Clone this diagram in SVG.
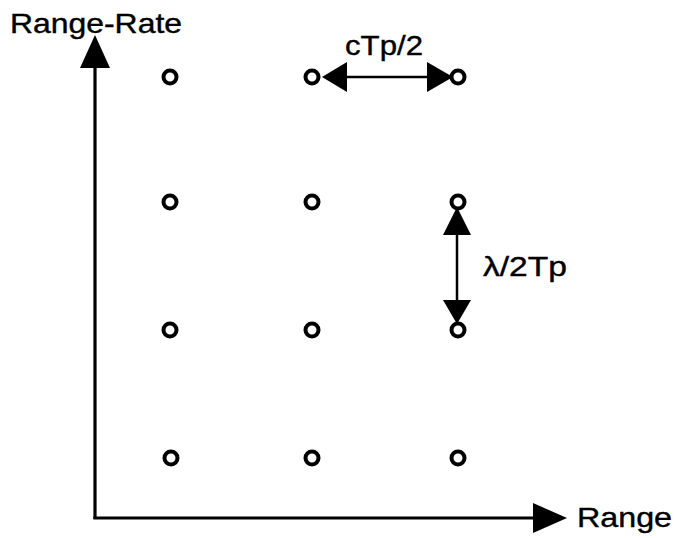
<svg xmlns="http://www.w3.org/2000/svg" width="676" height="538" viewBox="0 0 676 538">
<style>
.pt{fill:none;stroke:#000;stroke-width:4}
.ax{stroke:#000;stroke-width:3.2;fill:none}
.dim{stroke:#000;stroke-width:2.5;fill:none}
.hd{fill:#000}
text{font-family:"Liberation Sans",Arial,sans-serif;font-size:28px;fill:#000;stroke:#000;stroke-width:0.4}
</style>
<rect width="676" height="538" fill="#fff"/>
<g id="connectors">
<line class="ax" x1="95" y1="519" x2="95" y2="66"/>
<polygon class="hd" points="95,35 80,68 110,68"/>
<line class="ax" x1="93.4" y1="518" x2="535" y2="518"/>
<polygon class="hd" points="567,518 533,503 533,533"/>
<line class="dim" x1="345" y1="77" x2="429" y2="77"/>
<polygon class="hd" points="322,77 347,62 347,92"/>
<polygon class="hd" points="453,77 427,62 427,92"/>
<line class="dim" x1="457" y1="233" x2="457" y2="302"/>
<polygon class="hd" points="457,207 443,235 471,235"/>
<polygon class="hd" points="457,324 443,300 471,300"/>
</g>
<g id="p11"><circle class="pt" cx="170" cy="77" r="6.5"/></g>
<g id="p12"><circle class="pt" cx="312" cy="77" r="6.5"/></g>
<g id="p13"><circle class="pt" cx="458" cy="77" r="6.5"/></g>
<g id="p21"><circle class="pt" cx="170" cy="202" r="6.5"/></g>
<g id="p22"><circle class="pt" cx="312" cy="202" r="6.5"/></g>
<g id="p23"><circle class="pt" cx="458" cy="202" r="6.5"/></g>
<g id="p31"><circle class="pt" cx="170" cy="330" r="6.5"/></g>
<g id="p32"><circle class="pt" cx="312" cy="330" r="6.5"/></g>
<g id="p33"><circle class="pt" cx="458" cy="330" r="6.5"/></g>
<g id="p41"><circle class="pt" cx="171" cy="458" r="6.5"/></g>
<g id="p42"><circle class="pt" cx="312" cy="458" r="6.5"/></g>
<g id="p43"><circle class="pt" cx="458" cy="458" r="6.5"/></g>
<g id="labels">
<text x="10" y="33" textLength="172" lengthAdjust="spacingAndGlyphs">Range-Rate</text>
<text x="345" y="55" textLength="78" lengthAdjust="spacingAndGlyphs">cTp/2</text>
<text x="483" y="276" textLength="84" lengthAdjust="spacingAndGlyphs">λ/2Tp</text>
<text x="577" y="527" textLength="95" lengthAdjust="spacingAndGlyphs">Range</text>
</g>
</svg>
